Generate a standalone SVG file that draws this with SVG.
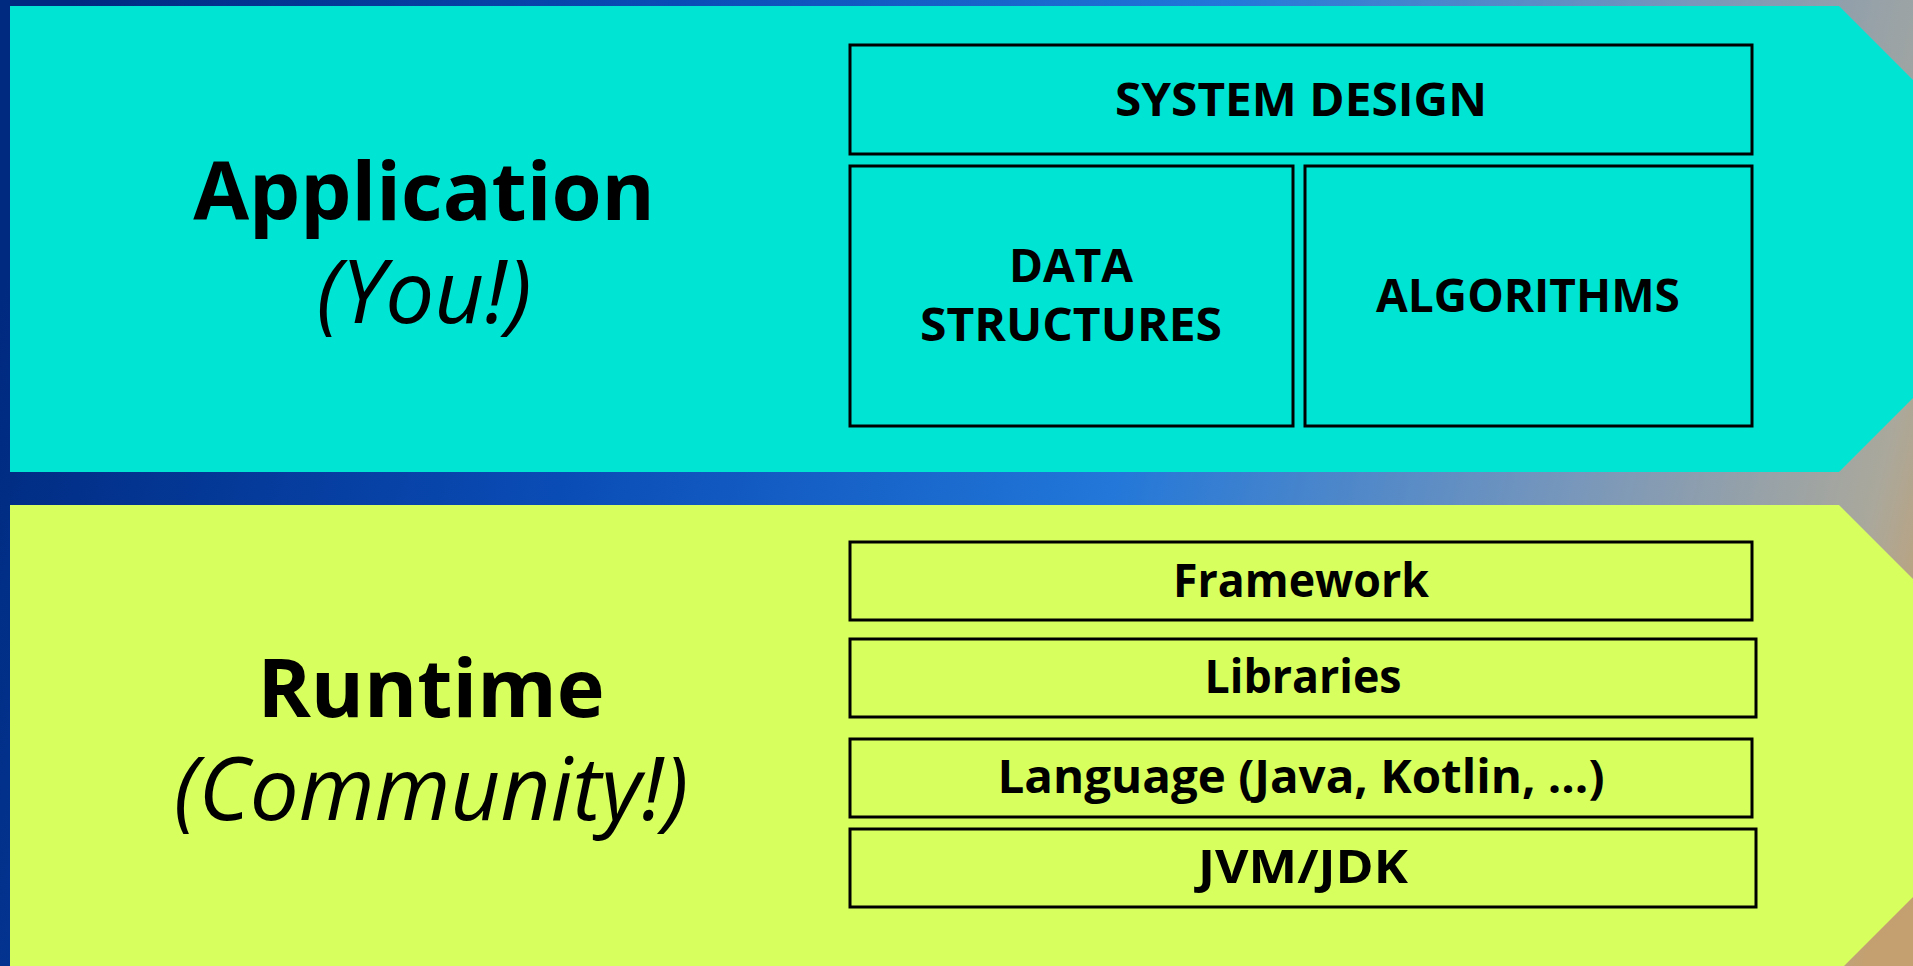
<svg xmlns="http://www.w3.org/2000/svg" width="1913" height="966" viewBox="0 0 1913 966">
<defs>
<linearGradient id="bg" gradientUnits="userSpaceOnUse" x1="0" y1="300" x2="1913" y2="760">
<stop offset="0" stop-color="#002a80"/>
<stop offset="0.3" stop-color="#0a4cb6"/>
<stop offset="0.57" stop-color="#2277d9"/>
<stop offset="0.8" stop-color="#7897bb"/>
<stop offset="0.95" stop-color="#aaa89c"/>
<stop offset="1" stop-color="#c4a070"/>
</linearGradient>
<style>
.box{stroke:#000;stroke-width:3;}
.cy{fill:#00e5d3;}
.gr{fill:#d7ff5e;}
.lbl{font-family:"Open Sans","Noto Sans",sans-serif;font-weight:700;font-size:46px;fill:#000;text-anchor:middle;}
.big{font-family:"Open Sans","Noto Sans",sans-serif;font-weight:700;font-size:81px;fill:#000;text-anchor:middle;}
.it{font-family:"Open Sans","Noto Sans",sans-serif;font-style:italic;font-weight:400;font-size:87px;fill:#000;text-anchor:middle;}
</style>
</defs>
<rect x="0" y="0" width="1913" height="966" fill="url(#bg)"/>
<g id="application-panel">
<polygon class="cy" points="10,6 1839,6 2072,239 1839,472 10,472"/>
<text class="big" x="424" y="220">Application</text>
<text class="it" x="424" y="323">(You!)</text>
</g>
<g id="runtime-panel">
<polygon class="gr" points="10,505 1839,505 2072,738 1839,971 10,971"/>
<text class="big" x="431" y="717">Runtime</text>
<text class="it" x="431" y="820">(Community!)</text>
</g>
<g id="system-design">
<rect class="box cy" x="850" y="45" width="902" height="109"/>
<text class="lbl" x="1301" y="116" textLength="372" lengthAdjust="spacingAndGlyphs">SYSTEM DESIGN</text>
</g>
<g id="data-structures">
<rect class="box cy" x="850" y="166" width="443" height="260"/>
<text class="lbl" x="1071" y="282">DATA</text>
<text class="lbl" x="1071" y="341" textLength="302" lengthAdjust="spacingAndGlyphs">STRUCTURES</text>
</g>
<g id="algorithms">
<rect class="box cy" x="1305" y="166" width="447" height="260"/>
<text class="lbl" x="1528" y="312">ALGORITHMS</text>
</g>
<g id="framework">
<rect class="box gr" x="850" y="542" width="902" height="78"/>
<text class="lbl" x="1301" y="597" textLength="256" lengthAdjust="spacingAndGlyphs">Framework</text>
</g>
<g id="libraries">
<rect class="box gr" x="850" y="639" width="906" height="78"/>
<text class="lbl" x="1303" y="693" textLength="197" lengthAdjust="spacingAndGlyphs">Libraries</text>
</g>
<g id="language">
<rect class="box gr" x="850" y="739" width="902" height="78"/>
<text class="lbl" x="1301" y="793" textLength="607" lengthAdjust="spacingAndGlyphs">Language (Java, Kotlin, ...)</text>
</g>
<g id="jvm-jdk">
<rect class="box gr" x="850" y="829" width="906" height="78"/>
<text class="lbl" x="1303" y="883" textLength="210" lengthAdjust="spacingAndGlyphs">JVM/JDK</text>
</g>
<g id="connectors"></g>
</svg>
